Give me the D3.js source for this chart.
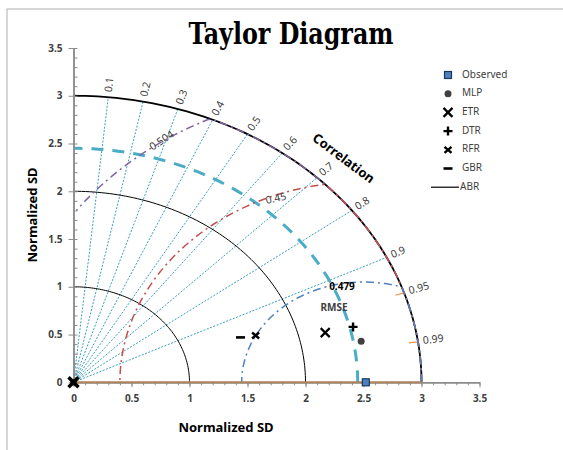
<!DOCTYPE html>
<html lang="en">
<head>
    <meta charset="utf-8">
    <title>Taylor Diagram</title>
    <style type="text/css">
        body { margin: 0; background: #fff; }
        .svg_taylor text { font-family: "Noto Sans", "Open Sans", sans-serif; fill: #404040; }
        .svg_taylor .axis path, .svg_taylor .axis line { stroke: #8c8c8c; }
        .svg_taylor .axis text { font-weight: bold; font-size: 10px; fill: #404040; }
    </style>
</head>
<body>
   <svg class="svg_taylor" width="563" height="450"></svg>

   <script src="https://d3js.org/d3.v7.min.js"></script>
   <script>
        // data
        var corrTicks = [0.1, 0.2, 0.3, 0.4, 0.5, 0.6, 0.7, 0.8, 0.9, 0.95, 0.99];
        var corrRays = [0.1, 0.2, 0.3, 0.4, 0.5, 0.6, 0.7, 0.8, 0.9];
        var sdArcs = [1, 2, 3];
        var refSD = 2.45;                       // dashed reference arc
        var obsPoint = {sd: 2.52, y: 0};
        var rmseRadius = [3.06, 2.1, 1.05];     // arcs around the observed point
        var rmseLabels = ['0.504', '0.45', '0.479'];
        var models = ['MLP', 'ETR', 'DTR', 'RFR', 'GBR'];
        var modelX = [2.48, 2.17, 2.41, 1.57, 1.44];
        var modelY = [0.43, 0.52, 0.58, 0.49, 0.47];
        var legendNames = ['Observed', 'MLP', 'ETR', 'DTR', 'RFR', 'GBR', 'ABR'];
        var axisTicks = [0, 0.5, 1, 1.5, 2, 2.5, 3, 3.5];

        var svg = d3.select('.svg_taylor'),
            maxSD = 3,
            rmseCenter = 2.5;

        // scales (the original chart is not square)
        var x = d3.scaleLinear().domain([0, 3.5]).range([73.5, 479.5]),
            y = d3.scaleLinear().domain([0, 3.5]).range([382.3, 48]);

        var line = d3.line()
                    .x(function(d) { return x(d[0]); })
                    .y(function(d) { return y(d[1]); });

        // outer frame
        svg.append('rect')
            .attr('x', 7).attr('y', 9)
            .attr('width', 600).attr('height', 500)
            .attr('fill', 'none')
            .attr('stroke', '#b0b0b0');

        // title
        svg.append('text')
            .attr('x', 291).attr('y', 44)
            .attr('text-anchor', 'middle')
            .attr('textLength', 205)
            .attr('lengthAdjust', 'spacingAndGlyphs')
            .style('font-family', '"DejaVu Serif Condensed", "DejaVu Serif", serif')
            .style('font-weight', 'bold')
            .style('font-size', '29px')
            .style('fill', '#000')
            .text('Taylor Diagram');

        // arc of points around origin
        function arcPoints(r) {
            return d3.range(0, 91).map(function(a) {
                var t = a * Math.PI / 180;
                return [r * Math.cos(t), r * Math.sin(t)];
            });
        }

        // rmse arc around observed point, clamped to the outer arc
        function rmsePoints(r) {
            var pts = [];
            d3.range(0, 181).forEach(function(a) {
                var t = a * Math.PI / 180,
                    px = rmseCenter + r * Math.cos(t),
                    py = r * Math.sin(t);
                if (px < 0) return;
                var d = Math.sqrt(px * px + py * py);
                if (d > maxSD) { px = px * maxSD / d; py = py * maxSD / d; }
                pts.push([px, py]);
            });
            return pts;
        }

        // correlation rays
        svg.append('g').selectAll('path')
            .data(corrRays)
            .enter().append('path')
            .attr('d', function(c) { return line([[0, 0], [maxSD * c, maxSD * Math.sqrt(1 - c * c)]]); })
            .attr('fill', 'none')
            .attr('stroke', '#3aa0bd')
            .attr('stroke-width', 1)
            .attr('stroke-dasharray', '2,1.5');

        // small orange ticks at 0.95 and 0.99
        svg.append('g').selectAll('path')
            .data([0.95, 0.99])
            .enter().append('path')
            .attr('d', function(c) {
                var s = Math.sqrt(1 - c * c);
                return line([[2.92 * c, 2.92 * s], [maxSD * c, maxSD * s]]);
            })
            .attr('stroke', '#f79646')
            .attr('stroke-width', 1.2);

        // sd arcs
        svg.append('g').selectAll('path')
            .data(sdArcs)
            .enter().append('path')
            .attr('d', function(r) { return line(arcPoints(r)); })
            .attr('fill', 'none')
            .attr('stroke', '#000')
            .attr('stroke-width', function(r) { return r === maxSD ? 1.8 : 1; });

        // reference dashed arc
        svg.append('path')
            .attr('d', line(arcPoints(refSD)))
            .attr('fill', 'none')
            .attr('stroke', '#4bacc6')
            .attr('stroke-width', 3)
            .attr('stroke-dasharray', '12,9');

        // rmse arcs
        var rmseColors = ['#8064a2', '#c0504d', '#4f81bd'];
        svg.append('g').selectAll('path')
            .data(rmseRadius)
            .enter().append('path')
            .attr('d', function(r) { return line(rmsePoints(r)); })
            .attr('fill', 'none')
            .attr('stroke', function(d, i) { return rmseColors[i]; })
            .attr('stroke-width', 1.5)
            .attr('stroke-dasharray', '8,4,2,4');

        // axes
        var xAxis = d3.axisBottom(x).tickValues(axisTicks).tickSize(5).tickSizeOuter(0).tickPadding(8)
                        .tickFormat(d3.format('')),
            xMinor = d3.axisBottom(x).tickValues(d3.range(0, 36).map(function(i) { return i / 10; }))
                        .tickSize(3).tickSizeOuter(0).tickFormat(''),
            yAxis = d3.axisLeft(y).tickValues(axisTicks).tickSize(5).tickSizeOuter(0).tickPadding(6)
                        .tickFormat(d3.format('')),
            yMinor = d3.axisRight(y).tickValues(d3.range(0, 36).map(function(i) { return i / 10; }))
                        .tickSize(4).tickSizeOuter(0).tickFormat('');

        svg.append('g').attr('class', 'axis').attr('transform', 'translate(0,' + y(0) + ')').call(xMinor);
        svg.append('g').attr('class', 'axis').attr('transform', 'translate(0,' + y(0) + ')').call(xAxis);
        svg.append('g').attr('class', 'axis').attr('transform', 'translate(' + x(0) + ',0)').call(yMinor);
        svg.append('g').attr('class', 'axis').attr('transform', 'translate(' + x(0) + ',0)').call(yAxis);
        svg.selectAll('.axis .domain').attr('stroke-width', 1.5);

        // correlation = 1 line on the x axis
        svg.append('path')
            .attr('d', line([[0, 0], [maxSD, 0]]))
            .attr('stroke', '#b0825a')
            .attr('stroke-width', 2);

        // correlation labels
        svg.append('g').selectAll('text')
            .data(corrTicks)
            .enter().append('text')
            .attr('transform', function(c) {
                var px = x(maxSD * c), py = y(maxSD * Math.sqrt(1 - c * c)),
                    dx = px - x(0), dy = py - y(0),
                    len = Math.sqrt(dx * dx + dy * dy),
                    ang = Math.atan2(dy, dx) * 180 / Math.PI;
                return 'translate(' + (px + dx / len * 5) + ',' + (py + dy / len * 5) + ') rotate(' + ang + ')';
            })
            .attr('dominant-baseline', 'middle')
            .style('font-size', '10.5px')
            .text(function(c) { return c; });

        svg.append('text')
            .attr('transform', 'translate(343,159) rotate(37)')
            .attr('text-anchor', 'middle')
            .attr('dominant-baseline', 'middle')
            .style('font-size', '13px')
            .style('font-weight', 'bold')
            .style('fill', '#000')
            .text('Correlation');

        // rmse labels
        svg.append('text')
            .attr('transform', 'translate(162,141) rotate(-34)')
            .attr('text-anchor', 'middle').attr('dominant-baseline', 'middle')
            .style('font-size', '10.5px')
            .text(rmseLabels[0]);
        svg.append('text')
            .attr('transform', 'translate(276,199) rotate(-12)')
            .attr('text-anchor', 'middle').attr('dominant-baseline', 'middle')
            .style('font-size', '10.5px')
            .text(rmseLabels[1]);
        svg.append('text')
            .attr('x', 342).attr('y', 287)
            .attr('text-anchor', 'middle').attr('dominant-baseline', 'middle')
            .style('font-size', '10px').style('font-weight', 'bold').style('fill', '#000')
            .text(rmseLabels[2]);
        svg.append('text')
            .attr('x', 334).attr('y', 308)
            .attr('text-anchor', 'middle').attr('dominant-baseline', 'middle')
            .style('font-size', '10px').style('font-weight', 'bold').style('fill', '#404040')
            .text('RMSE');

        // axis titles
        svg.append('text')
            .attr('x', 226).attr('y', 428)
            .attr('text-anchor', 'middle').attr('dominant-baseline', 'middle')
            .style('font-size', '13px').style('font-weight', 'bold').style('fill', '#000')
            .text('Normalized SD');
        svg.append('text')
            .attr('transform', 'translate(33,215) rotate(-90)')
            .attr('text-anchor', 'middle').attr('dominant-baseline', 'middle')
            .style('font-size', '13px').style('font-weight', 'bold').style('fill', '#000')
            .text('Normalized SD');

        // marker symbols
        function drawMarker(g, name) {
            if (name === 'Observed') {
                g.append('rect').attr('x', -3.5).attr('y', -3.5).attr('width', 7).attr('height', 7)
                    .attr('fill', '#4f81bd').attr('stroke', '#17375e').attr('stroke-width', 1.2);
            } else if (name === 'MLP') {
                g.append('circle').attr('r', 3.5).attr('fill', '#404040');
            } else if (name === 'ETR') {
                g.append('path').attr('d', 'M-4.5,-4.5L4.5,4.5M-4.5,4.5L4.5,-4.5')
                    .attr('stroke', '#000').attr('stroke-width', 2.2);
            } else if (name === 'DTR') {
                g.append('path').attr('d', 'M-4.5,0H4.5M0,-4.5V4.5')
                    .attr('stroke', '#000').attr('stroke-width', 2.4);
            } else if (name === 'RFR') {
                g.append('path').attr('d', 'M-3.5,-3L3.5,3M-3.5,3L3.5,-3')
                    .attr('stroke', '#000').attr('stroke-width', 2.4);
            } else if (name === 'GBR') {
                g.append('path').attr('d', 'M-4.5,0H4.5')
                    .attr('stroke', '#000').attr('stroke-width', 2.6);
            } else if (name === 'ABR') {
                g.append('path').attr('d', 'M-17,0H11')
                    .attr('stroke', '#000').attr('stroke-width', 1.2);
            }
        }

        // points stacked at origin
        var origin = svg.append('g').attr('transform', 'translate(' + x(0) + ',' + y(0) + ')');
        origin.append('path').attr('d', 'M-5,-5L5,5M-5,5L5,-5').attr('stroke', '#000').attr('stroke-width', 3.5);
        origin.append('rect').attr('x', -3).attr('y', -3).attr('width', 6).attr('height', 6).attr('fill', '#000');

        // observed point
        drawMarker(svg.append('g').attr('transform', 'translate(' + x(obsPoint.sd) + ',' + y(obsPoint.y) + ')'), 'Observed');

        // model points
        models.forEach(function(m, i) {
            drawMarker(svg.append('g').attr('transform', 'translate(' + x(modelX[i]) + ',' + y(modelY[i]) + ')'), m);
        });

        // legend
        var legend = svg.append('g').selectAll('g')
            .data(legendNames)
            .enter().append('g')
            .attr('transform', function(d, i) { return 'translate(448,' + (75 + i * 18.7) + ')'; });
        legend.each(function(d) { drawMarker(d3.select(this), d); });
        legend.append('text')
            .attr('x', function(d) { return d === 'ABR' ? 12 : 14; })
            .attr('dominant-baseline', 'middle')
            .style('font-size', '10px')
            .text(function(d) { return d; });
   </script>
</body>
</html>
